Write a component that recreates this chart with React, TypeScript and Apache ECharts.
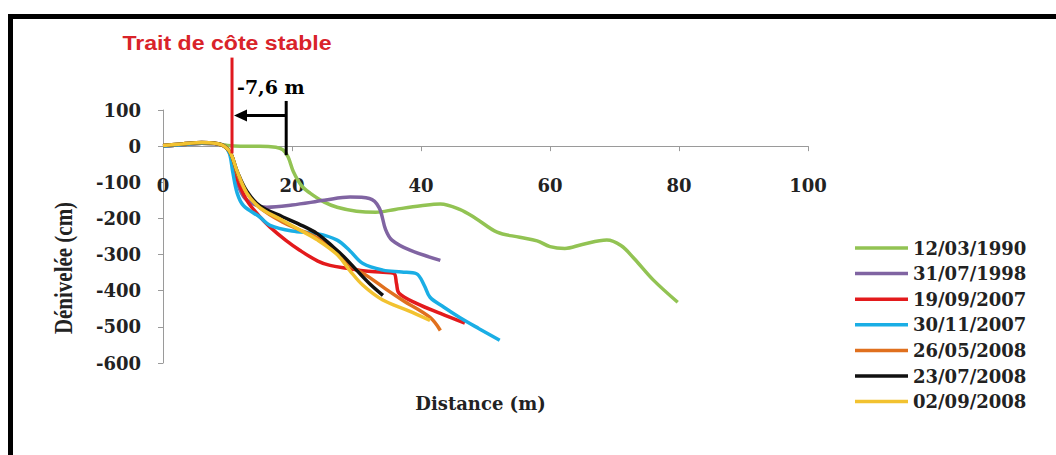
import React, { useEffect, useRef } from "react";
import * as echarts from "echarts";

const SERIES_NAMES = ["12/03/1990", "31/07/1998", "19/09/2007", "30/11/2007", "26/05/2008", "23/07/2008", "02/09/2008"];
const SERIES_COLORS = ["#92C353", "#8064A2", "#E31A1C", "#1AAEE5", "#E0701E", "#111111", "#F2C230"];

const p1990: number[][] = [[0,0],[3,4],[6,8],[8,7],[10,2],[12,0],[15,0],[17.5,-3],[18.6,-10],[19.4,-30],[20.2,-70],[21.5,-110],[22.8,-130],[25,-155],[27,-169],[30,-180],[33,-183],[36,-175],[40,-165],[43,-160],[46,-175],[48.5,-200],[51.8,-238],[55.3,-252],[58,-262],[60,-278],[62.3,-283],[65,-272],[68.8,-260],[71,-275],[73,-310],[76,-370],[79.8,-432]];
const p1998: number[][] = [[0,0],[3,4],[6,8],[8,7],[9.5,0],[10.5,-25],[11.3,-90],[12.5,-140],[14,-160],[16.1,-169],[20,-163],[25,-150],[29,-141],[32,-145],[33.5,-170],[34.5,-230],[35.5,-260],[38.3,-288],[43,-316]];
const p2007a: number[][] = [[0,0],[3,4],[6,8],[8,7],[9.5,0],[10.7,-30],[11.5,-90],[13,-150],[15,-195],[16.6,-224],[19,-260],[21.2,-288],[24,-318],[25.9,-330],[28.5,-338],[31,-345],[34.1,-349],[35.8,-352],[36.2,-380],[36.6,-407],[39.3,-435],[43,-463],[46.8,-490]];
const p2007b: number[][] = [[0,0],[3,4],[6,8],[8,7],[9.5,0],[10.3,-20],[10.8,-70],[11.5,-130],[12.5,-165],[15,-196],[16.6,-219],[20,-235],[23.9,-242],[27,-260],[29,-290],[31,-325],[34.1,-343],[37,-348],[39.3,-353],[40.5,-385],[41.4,-418],[43.5,-445],[46,-474],[49,-505],[52.2,-537]];
const p2008a: number[][] = [[0,2],[3,6],[6,10],[8,8],[9.5,0],[10.5,-20],[11.5,-75],[13,-130],[15,-170],[18.5,-210],[21,-230],[24,-255],[26.5,-285],[28.5,-324],[32,-363],[34.5,-395],[37.2,-427],[41.4,-474],[43,-510]];
const p2008b: number[][] = [[0,2],[3,6],[6,10],[8,8],[9.5,0],[10.5,-20],[11.5,-70],[13,-125],[15,-165],[18.6,-196],[21,-215],[23.9,-242],[26.4,-279],[28,-305],[30,-343],[32,-380],[34.1,-413]];
const p2008c: number[][] = [[0,2],[3,6],[6,10],[8,8],[9.5,0],[10.5,-20],[11.5,-70],[13,-130],[15,-170],[18.5,-205],[21,-230],[24,-260],[27,-300],[29,-345],[31,-385],[34,-425],[38,-455],[41.4,-482]];
const SERIES_DATA = [p1990, p1998, p2007a, p2007b, p2008a, p2008b, p2008c];

const X_TICKS = { min: 0, max: 100, interval: 20 };
const Y_TICKS = { min: -600, max: 100, interval: 100 };

const X_NAME = "Distance (m)";
const Y_NAME = "Dénivelée (cm)";

// annotation (data units)
const STABLE_X = 10.7;
const STABLE_LABEL = "Trait de côte stable";
const SHIFT_X = 19.1;
const SHIFT_LABEL = "-7,6 m";

const SERIF = "'DejaVu Serif', serif";
const GRID = { left: 163, top: 110, width: 645, height: 253 };

export default function App() {
  const ref = useRef<HTMLDivElement>(null);
  useEffect(() => {
    const chart = echarts.init(ref.current!, undefined, { renderer: "svg" });
    const axisFont = { fontFamily: SERIF, fontWeight: "bold" as const, fontSize: 18, color: "#222" };
    const zeroOffset = -GRID.height * (0 - Y_TICKS.min) / (Y_TICKS.max - Y_TICKS.min);
    chart.setOption({
      animation: false,
      backgroundColor: "#fff",
      grid: { ...GRID, containLabel: false, outerBoundsMode: "none" },
      legend: {
        orient: "vertical",
        left: 850,
        top: 234,
        icon: "rect",
        itemWidth: 53,
        itemHeight: 3.5,
        itemGap: 7.6,
        textStyle: { fontFamily: SERIF, fontWeight: "bold", fontSize: 18, lineHeight: 14, color: "#222" },
        data: SERIES_NAMES,
      },
      xAxis: {
        type: "value",
        position: "bottom",
        offset: zeroOffset,
        min: X_TICKS.min,
        max: X_TICKS.max,
        interval: X_TICKS.interval,
        axisLine: { show: true, onZero: false, lineStyle: { color: "#9a9a9a", width: 1 } },
        axisTick: { show: true, length: 5, lineStyle: { color: "#9a9a9a" } },
        axisLabel: { ...axisFont, margin: 30 },
        splitLine: { show: false },
        name: X_NAME,
        nameLocation: "middle",
        nameGap: 248,
        nameTextStyle: { fontFamily: SERIF, fontWeight: "bold", fontSize: 18, color: "#222", padding: [0, 10, 0, 0] },
      },
      yAxis: {
        type: "value",
        min: Y_TICKS.min,
        max: Y_TICKS.max,
        interval: Y_TICKS.interval,
        axisLine: { show: true, lineStyle: { color: "#9a9a9a", width: 1 } },
        axisTick: { show: true, length: 5, lineStyle: { color: "#9a9a9a" } },
        axisLabel: { ...axisFont, margin: 22 },
        splitLine: { show: false },
      },
      series: SERIES_NAMES.map((name, i) => ({
        name,
        type: "line",
        data: SERIES_DATA[i],
        smooth: 0.35,
        symbol: "none",
        showSymbol: false,
        color: SERIES_COLORS[i],
        lineStyle: { width: 3.5, color: SERIES_COLORS[i] },
        z: 2 + i,
      })),
    });

    const px = (x: number, y: number) => chart.convertToPixel({ gridIndex: 0 }, [x, y]) as number[];
    const redTop = px(STABLE_X, 245);
    const redBot = px(STABLE_X, -20);
    const blkTop = px(SHIFT_X, 125);
    const blkBot = px(SHIFT_X, -25);
    const arrowY = px(STABLE_X, 85)[1];
    const tipX = redTop[0] + 2;
    chart.setOption({
      graphic: [
        { type: "rect", shape: { x: 10.5, y: 16.5, width: 1100, height: 500 }, style: { fill: "none", stroke: "#000", lineWidth: 5 }, z: 100 },
        { type: "line", shape: { x1: redTop[0], y1: redTop[1], x2: redBot[0], y2: redBot[1] }, style: { stroke: "#E0181F", lineWidth: 3 }, z: 50 },
        { type: "line", shape: { x1: blkTop[0], y1: blkTop[1], x2: blkBot[0], y2: blkBot[1] }, style: { stroke: "#000", lineWidth: 3 }, z: 50 },
        { type: "line", shape: { x1: blkTop[0], y1: arrowY, x2: tipX + 10, y2: arrowY }, style: { stroke: "#000", lineWidth: 3 }, z: 50 },
        { type: "polygon", shape: { points: [[tipX, arrowY], [tipX + 13, arrowY - 6], [tipX + 13, arrowY + 6]] }, style: { fill: "#000" }, z: 50 },
        { type: "text", x: 227, y: 43, scaleX: 1.1, style: { text: STABLE_LABEL, fill: "#D9232A", font: "bold 21px 'Liberation Sans', sans-serif", align: "center", verticalAlign: "middle" }, z: 50 },
        { type: "text", x: redTop[0] + 5, y: 87, style: { text: SHIFT_LABEL, fill: "#000", font: "bold 19px 'DejaVu Serif', serif", align: "left", verticalAlign: "middle" }, z: 50 },
        { type: "text", x: 64, y: 268, rotation: Math.PI / 2, scaleY: 1.15, style: { text: Y_NAME, fill: "#222", font: "bold 21px 'Liberation Serif', serif", align: "center", verticalAlign: "middle" }, z: 50 },
      ],
    });
    return () => chart.dispose();
  }, []);
  return <div ref={ref} style={{ position: "absolute", left: 0, top: 0, width: 1056, height: 455 }} />;
}
